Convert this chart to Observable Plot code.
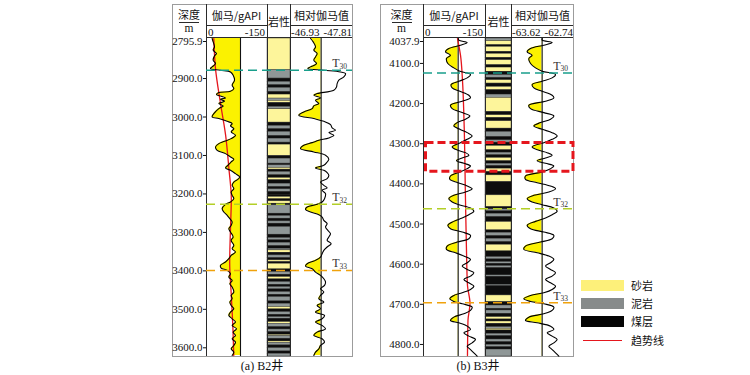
<!DOCTYPE html>
<html><head><meta charset="utf-8">
<script src="https://cdn.jsdelivr.net/npm/d3@7"></script>
<script src="https://cdn.jsdelivr.net/npm/@observablehq/plot@0.6"></script>
<style>
body{margin:0;background:#fff;}
#fig{position:relative;width:750px;height:375px;overflow:hidden;background:#fff;font-family:"Liberation Serif","Times New Roman","DejaVu Serif",serif;color:#111;}
.abs{position:absolute;}
.abs svg{overflow:visible;display:block;}
.t{position:absolute;white-space:nowrap;line-height:1;}
</style></head><body><div id="fig"></div>
<script>
// ---------------- DATA ----------------
const depthTicksA = [2795.9, 2900, 3000, 3100, 3200, 3300, 3400, 3500, 3600];
const depthTicksB = [4037.9, 4100, 4200, 4300, 4400, 4500, 4600, 4700, 4800];
const gammaScale = [0, -150];
const relScaleA = [-46.93, -47.81];
const relScaleB = [-63.62, -62.74];
const lithoNames = ["砂岩", "泥岩", "煤层"];
const markerNames = ["T30", "T32", "T33"];
const markerDepthA = [2878.4, 3227, 3398.8];
const markerDepthB = [4123.6, 4461.8, 4696.2];
const boxB = [4298, 4370];

// B2 well: [depth m, gamma]
const gammaA = [[2795.9,-13.9],[2804.7,-16.4],[2817.7,-19.7],[2826.3,-16.4],[2835,-24.6],[2841.1,-19.7],[2852.4,-16.4],[2861,-22.1],[2869.7,-13.9],[2874,-9.8],[2878.4,-34.4],[2882.8,-59],[2891.4,-65.6],[2904.4,-68.9],[2917.4,-63.1],[2926.1,-67.2],[2933,-59],[2936.5,-30.3],[2941.7,-24.6],[2946,-36.1],[2950.4,-46.7],[2953.8,-34.4],[2959,-44.3],[2965.1,-30.3],[2971.2,-41],[2978.1,-30.3],[2991.1,-18],[2999.8,-13.9],[3004.1,-30.3],[3011.1,-50.8],[3017.2,-63.1],[3023.2,-59],[3030.2,-67.2],[3038.8,-60.7],[3047.5,-71.3],[3056.2,-60.7],[3063.1,-44.3],[3069.2,-30.3],[3077.9,-22.1],[3086.5,-26.2],[3095.2,-46.7],[3103.9,-59],[3110,-67.2],[3116.9,-60.7],[3125.6,-52.5],[3132.5,-46.7],[3138.6,-59],[3147.3,-71.3],[3156,-82],[3162,-77],[3169,-67.2],[3177.6,-63.1],[3186.3,-67.2],[3195,-60.7],[3203.6,-63.1],[3212.3,-67.2],[3220.9,-59],[3227,-46.7],[3238.3,-38.5],[3247,-42.6],[3255.6,-50.8],[3264.3,-57.4],[3273,-63.1],[3281.7,-60.7],[3290.3,-54.9],[3299,-59],[3312,-65.6],[3320.7,-60.7],[3333.7,-67.2],[3342.4,-63.1],[3351,-71.3],[3359.7,-60.7],[3368.4,-54.9],[3377,-46.7],[3385.8,-34.4],[3392.7,-36.1],[3398.8,-50.8],[3407.4,-59],[3416.1,-54.9],[3424.8,-63.1],[3433.5,-57.4],[3442.1,-63.1],[3455.1,-67.2],[3463.8,-60.7],[3472.5,-63.1],[3481.2,-57.4],[3489.8,-60.7],[3498.5,-67.2],[3507.2,-59],[3515.9,-54.9],[3524.5,-63.1],[3533.2,-71.3],[3541.9,-63.1],[3550.6,-73.8],[3559.2,-65.6],[3567.9,-71.3],[3576.6,-63.1],[3585.3,-71.3],[3593.9,-67.2],[3602.6,-60.7],[3611.3,-67.2],[3620,-63.1]];
const trendA = [[2796,-18],[2873,-22],[2962,-34],[3047,-47],[3133,-55],[3212,-61],[3290,-59],[3378,-57],[3464,-61],[3550,-65],[3620,-67]];
const gammaBaseA = -83.6;
const relA = [[2795.9,-47.214],[2804.7,-47.252],[2817.7,-47.285],[2826.3,-47.261],[2835,-47.308],[2843.7,-47.285],[2852.4,-47.261],[2861,-47.299],[2869.7,-47.214],[2874,-47.176],[2878.4,-47.403],[2882.8,-47.64],[2887.1,-47.711],[2895.8,-47.687],[2904.4,-47.616],[2913.1,-47.592],[2921.8,-47.583],[2930.5,-47.545],[2939.1,-47.308],[2943.5,-47.261],[2950.4,-47.356],[2956.5,-47.285],[2965.1,-47.332],[2971.2,-47.261],[2978.1,-47.238],[2986.8,-47.119],[2995.5,-47.048],[3004.1,-47.261],[3011.1,-47.403],[3019.8,-47.498],[3028.4,-47.521],[3034.5,-47.569],[3040.6,-47.474],[3047.5,-47.545],[3054.4,-47.474],[3060.5,-47.332],[3066.6,-47.238],[3073.5,-47.119],[3082.2,-47.072],[3090.8,-47.261],[3099.5,-47.427],[3109.9,-47.474],[3116.9,-47.45],[3125.6,-47.403],[3132.5,-47.285],[3138.6,-47.403],[3144.6,-47.45],[3151.6,-47.474],[3160.2,-47.45],[3168.9,-47.356],[3177.6,-47.403],[3184.5,-47.45],[3190.6,-47.379],[3199.3,-47.427],[3212.3,-47.413],[3220.9,-47.379],[3227,-47.308],[3234,-47.167],[3240,-47.143],[3247,-47.214],[3253.9,-47.332],[3260,-47.379],[3268.7,-47.403],[3277.3,-47.45],[3286,-47.427],[3294.7,-47.46],[3303.4,-47.498],[3312,-47.474],[3320.7,-47.45],[3329.4,-47.507],[3338,-47.45],[3346.7,-47.403],[3355.4,-47.379],[3364.1,-47.356],[3372.7,-47.285],[3381.4,-47.167],[3387.5,-47.143],[3394.4,-47.238],[3403.1,-47.285],[3411.8,-47.356],[3420.5,-47.403],[3429.1,-47.427],[3437.8,-47.413],[3446.5,-47.356],[3455.1,-47.403],[3463.8,-47.356],[3472.5,-47.332],[3481.2,-47.403],[3489.8,-47.308],[3498.5,-47.356],[3507.2,-47.285],[3515.9,-47.413],[3524.5,-47.379],[3533.2,-47.285],[3541.9,-47.379],[3550.6,-47.427],[3559.2,-47.308],[3567.9,-47.261],[3576.6,-47.379],[3585.3,-47.413],[3593.9,-47.356],[3602.6,-47.332],[3611.3,-47.285],[3620,-47.261]];
const relBaseA = -47.365;
// lithology: [top depth, S=砂岩 M=泥岩 C=煤层]
const lithoA = [[2795.9,"S"],[2878.4,"M"],[2900.1,"C"],[2908.8,"M"],[2917.4,"C"],[2924.4,"M"],[2934.8,"C"],[2941.7,"S"],[2952.1,"M"],[2958.2,"S"],[2963.4,"C"],[2973.8,"M"],[2979.9,"S"],[3014.6,"C"],[3023.2,"M"],[3031.9,"C"],[3038.8,"M"],[3049.3,"C"],[3056.2,"M"],[3066.6,"C"],[3071.8,"S"],[3101.3,"C"],[3108.2,"M"],[3121.2,"C"],[3125.6,"M"],[3132.5,"S"],[3136.8,"C"],[3142.9,"M"],[3151.6,"C"],[3158.5,"S"],[3164.6,"C"],[3173.3,"M"],[3181.9,"C"],[3188,"M"],[3194.9,"C"],[3201.9,"C"],[3207.9,"S"],[3214,"C"],[3219.2,"S"],[3225.3,"C"],[3229.6,"M"],[3251.3,"C"],[3257.4,"M"],[3264.3,"C"],[3271.3,"M"],[3277.3,"C"],[3286,"M"],[3305.9,"C"],[3314.6,"M"],[3320.7,"C"],[3326.8,"M"],[3335.4,"C"],[3342.4,"M"],[3346.7,"S"],[3352.8,"C"],[3359.7,"M"],[3366.7,"C"],[3372.7,"S"],[3377.1,"C"],[3381.4,"S"],[3396.2,"C"],[3403.1,"M"],[3410,"C"],[3416.1,"S"],[3422.2,"C"],[3429.1,"M"],[3436.1,"C"],[3442.1,"M"],[3448.2,"C"],[3455.1,"M"],[3462.1,"C"],[3468.2,"M"],[3479.4,"C"],[3485.5,"M"],[3494.2,"S"],[3500.2,"C"],[3507.2,"M"],[3514.1,"C"],[3520.2,"M"],[3524.5,"C"],[3533.2,"S"],[3537.6,"M"],[3546.2,"C"],[3552.3,"M"],[3559.2,"C"],[3566.2,"S"],[3569.6,"M"],[3576.6,"C"],[3583.5,"S"],[3587,"M"],[3593.9,"C"],[3600.9,"M"],[3609.5,"C"],[3615.6,"M"],[3622.6,"C"]];

// B3 well
const gammaB = [[4038,-84],[4042.1,-85.5],[4047.9,-105.7],[4054.6,-89.5],[4062.9,-61.3],[4071.2,-53.2],[4079.5,-65.3],[4087.8,-55.6],[4100.3,-58.9],[4111.1,-73.4],[4119.4,-87.9],[4127.7,-113.7],[4136,-105.7],[4144.4,-85.5],[4152.7,-66.9],[4161,-69.4],[4169.3,-87.9],[4179.3,-109.7],[4185.9,-113.7],[4194.2,-93.6],[4204.2,-65.3],[4212.5,-69.4],[4222.5,-93.6],[4230.8,-112.1],[4239.1,-101.6],[4247.4,-81.5],[4255.7,-73.4],[4264.1,-87.9],[4272.4,-105.7],[4280.7,-117.7],[4289,-105.7],[4297.3,-89.5],[4308.1,-69.4],[4316.4,-83.1],[4322.2,-101.6],[4328.9,-109.7],[4335.5,-93.6],[4342.2,-79.8],[4348.8,-97.6],[4355.5,-113.7],[4362.1,-105.7],[4370.4,-87.9],[4380.4,-65.3],[4388.7,-63.7],[4397,-83.1],[4405.3,-105.7],[4412,-117.7],[4420.3,-101.6],[4428.6,-73.4],[4436.9,-61.3],[4445.2,-69.4],[4451.9,-85.5],[4460.2,-113.7],[4468.5,-121.8],[4476.8,-109.7],[4485.1,-93.6],[4493.4,-73.4],[4503.4,-58.9],[4511.7,-65.3],[4520,-93.6],[4528.3,-113.7],[4536.6,-109.7],[4545,-81.5],[4554.9,-57.3],[4563.2,-55.6],[4571.5,-77.4],[4579.9,-97.6],[4588.2,-113.7],[4596.5,-105.7],[4604.8,-93.6],[4613.1,-105.7],[4621.4,-121.8],[4629.7,-113.7],[4638,-97.6],[4646.4,-109.7],[4654.7,-121.8],[4663,-113.7],[4671.3,-93.6],[4677.9,-73.4],[4686.2,-63.7],[4692.9,-73.4],[4698.7,-93.6],[4707,-117.7],[4715.3,-113.7],[4723.6,-97.6],[4732,-73.4],[4740.3,-65.3],[4746.1,-85.5],[4754.4,-105.7],[4762.7,-113.7],[4771,-97.6],[4779.3,-109.7],[4787.6,-125.8],[4796,-117.7],[4804.3,-105.7],[4812.6,-113.7],[4820.9,-121.8],[4829.2,-129.8]];
const trendB = [[4038,-82.2],[4079.5,-89.5],[4141.9,-94.3],[4241.6,-98],[4441,-101.6],[4565.7,-104],[4653,-106.4],[4697.8,-112.5],[4740.2,-107.6],[4827.5,-106.4]];
const gammaBaseB = -83.9;
const relB = [[4038,-63.185],[4042.1,-63.185],[4047.9,-63.043],[4054.6,-63.161],[4062.9,-63.35],[4071.2,-63.398],[4079.5,-63.327],[4087.8,-63.374],[4100.3,-63.35],[4111.1,-63.279],[4119.4,-63.185],[4127.7,-62.995],[4136,-63.043],[4144.4,-63.185],[4152.7,-63.327],[4161,-63.303],[4169.3,-63.185],[4179.3,-63.043],[4185.9,-63.019],[4194.2,-63.137],[4204.2,-63.374],[4212.5,-63.35],[4222.5,-63.161],[4230.8,-63.019],[4239.1,-63.066],[4247.4,-63.208],[4255.7,-63.303],[4264.1,-63.185],[4272.4,-63.043],[4280.7,-62.972],[4289,-63.043],[4297.3,-63.161],[4308.1,-63.327],[4316.4,-63.232],[4322.2,-63.114],[4328.9,-63.043],[4335.5,-63.137],[4342.2,-63.256],[4348.8,-63.137],[4355.5,-63.019],[4362.1,-63.066],[4370.4,-63.185],[4380.4,-63.421],[4388.7,-63.421],[4397,-63.256],[4405.3,-63.066],[4412,-62.995],[4420.3,-63.09],[4428.6,-63.303],[4436.9,-63.398],[4445.2,-63.327],[4451.9,-63.185],[4460.2,-63.019],[4468.5,-62.972],[4476.8,-63.043],[4485.1,-63.137],[4493.4,-63.279],[4503.4,-63.398],[4511.7,-63.35],[4520,-63.161],[4528.3,-63.019],[4536.6,-63.043],[4545,-63.208],[4554.9,-63.421],[4563.2,-63.445],[4571.5,-63.256],[4579.9,-63.09],[4588.2,-63.019],[4596.5,-63.066],[4604.8,-63.137],[4613.1,-63.066],[4621.4,-62.995],[4629.7,-63.043],[4638,-63.137],[4646.4,-63.066],[4654.7,-62.995],[4663,-63.043],[4671.3,-63.161],[4677.9,-63.35],[4686.2,-63.445],[4692.9,-63.35],[4698.7,-63.161],[4707,-63.019],[4715.3,-63.043],[4723.6,-63.161],[4732,-63.374],[4740.3,-63.421],[4746.1,-63.256],[4754.4,-63.066],[4762.7,-63.019],[4771,-63.114],[4779.3,-63.043],[4787.6,-62.972],[4796,-63.019],[4804.3,-63.09],[4812.6,-63.043],[4820.9,-62.995],[4829.2,-62.948]];
const relBaseB = -63.185;
const lithoB = [[4037.9,"M"],[4044.6,"S"],[4054.6,"C"],[4058.8,"S"],[4071.2,"C"],[4076.2,"S"],[4086.2,"C"],[4092,"S"],[4104.5,"C"],[4110.3,"S"],[4120.8,"C"],[4129.1,"M"],[4136,"C"],[4141.8,"S"],[4150.2,"C"],[4158.5,"S"],[4166.8,"C"],[4177.6,"M"],[4185.9,"S"],[4220.8,"C"],[4229.1,"S"],[4235.8,"C"],[4244.1,"S"],[4262.4,"C"],[4270.7,"M"],[4283.2,"C"],[4291.5,"M"],[4297.3,"C"],[4305.6,"S"],[4316.4,"C"],[4322.2,"M"],[4328.9,"C"],[4335.5,"S"],[4343.8,"C"],[4349.7,"M"],[4355.5,"C"],[4362.1,"S"],[4370.4,"C"],[4378.8,"S"],[4395.4,"C"],[4428.6,"S"],[4457.7,"C"],[4463.5,"M"],[4468.5,"C"],[4474.3,"M"],[4482.6,"C"],[4495.1,"S"],[4515.9,"C"],[4521.7,"M"],[4530,"C"],[4536.6,"M"],[4545,"C"],[4551.6,"S"],[4568.2,"C"],[4582.4,"M"],[4588.2,"C"],[4594.8,"M"],[4599,"C"],[4604.8,"M"],[4609.8,"C"],[4628,"M"],[4631.4,"C"],[4651.3,"M"],[4654.7,"C"],[4677.9,"S"],[4694.5,"C"],[4702.9,"M"],[4711.2,"C"],[4715.3,"M"],[4723.6,"C"],[4732,"S"],[4737.8,"C"],[4742.8,"S"],[4748.6,"C"],[4756.9,"M"],[4761,"S"],[4765.2,"C"],[4773.5,"M"],[4779.3,"C"],[4787.6,"M"],[4794.3,"C"],[4800.9,"M"],[4806.8,"C"],[4812.6,"M"]];

// ---------------- STYLE / LAYOUT ----------------
const FILL_Y = "#fbf200";
const LITHO_COLORS = ["#fdf59b", "#8f9797", "#0d0d0d"];
const LEG_COLORS = ["#fdf07a", "#878b8b", "#050505"];
const RED = "#e5161d";
const MARK_COLORS = ["#199f8c", "#b3cf27", "#f0a20c"];
const SERIF = '"Liberation Serif","Times New Roman","DejaVu Serif",serif';
const CJK = '"Noto Sans CJK SC","Liberation Serif",sans-serif';
const codeName = {S: "砂岩", M: "泥岩", C: "煤层"};

const wells = [
  {frameL:172, depthR:206, gammaR:267, lithoR:290, relR:352, top:4, dataTop:38, bottom:356,
   domain:[2795.9, 3622.6], ticks:depthTicksA, gamma:gammaA, trend:trendA, gBase:gammaBaseA,
   rel:relA, relScale:relScaleA, rBase:relBaseA, litho:lithoA, marks:markerDepthA, box:null,
   caption:"(a) B2井", capX:262, leftLab:"-46.93", rightLab:"-47.81"},
  {frameL:380, depthR:423, gammaR:485, lithoR:511, relR:573, top:4, dataTop:38, bottom:356,
   domain:[4037.9, 4830], ticks:depthTicksB, gamma:gammaB, trend:trendB, gBase:gammaBaseB,
   rel:relB, relScale:relScaleB, rBase:relBaseB, litho:lithoB, marks:markerDepthB, box:boxB,
   caption:"(b) B3井", capX:478, leftLab:"-63.62", rightLab:"-62.74"}
];

const fig = document.getElementById("fig");
function place(node, left, top) {
  const w = document.createElement("div");
  w.className = "abs"; w.style.left = left + "px"; w.style.top = top + "px";
  w.appendChild(node); fig.appendChild(w); return w;
}
function box(left, top, width, height, style) {
  const d = document.createElement("div");
  d.className = "abs";
  Object.assign(d.style, {left: left + "px", top: top + "px", width: width + "px", height: height + "px", boxSizing: "border-box"}, style);
  fig.appendChild(d); return d;
}
function text(str, x, y, anchor, size, family) {
  const d = document.createElement("div");
  d.className = "t"; d.textContent = str;
  d.style.fontSize = (size || 11) + "px";
  d.style.fontFamily = family || SERIF;
  d.style.top = y + "px";
  const tx = anchor === "start" ? "0" : anchor === "end" ? "-100%" : "-50%";
  d.style.left = x + "px";
  d.style.transform = `translate(${tx},-50%)`;
  fig.appendChild(d); return d;
}
const plotStyle = {background: "transparent", overflow: "visible", fontFamily: SERIF, fontSize: "11px", color: "#111"};

for (const w of wells) {
  const H = w.bottom - w.dataTop;
  const ys = () => ({domain: w.domain, range: [0, H], axis: null});
  const [d0, d1] = w.domain;

  // frame
  box(w.frameL, w.top, w.relR - w.frameL + 1, w.bottom - w.top + 1, {border: "1.5px solid #9c9c9c"});

  // gamma track + depth axis
  const gPlot = Plot.plot({
    width: w.gammaR - w.frameL, height: H,
    marginLeft: w.depthR - w.frameL, marginRight: 0, marginTop: 0, marginBottom: 0,
    x: {domain: gammaScale, axis: null},
    y: ys(),
    style: plotStyle,
    marks: [
      Plot.areaX(w.gamma, {y: d => d[0], x1: w.gBase, x2: d => d[1], fill: FILL_Y, curve: "catmull-rom"}),
      Plot.rect([0], {x1: w.gBase, x2: gammaScale[1], y1: d0, y2: d1, fill: "white"}),
      Plot.ruleX([w.gBase], {stroke: "#111", strokeWidth: 1.1}),
      Plot.lineX(w.trend, {x: d => d[1], y: d => d[0], stroke: RED, strokeWidth: 1.3, curve: "monotone-y"}),
      Plot.lineX(w.gamma, {x: d => d[1], y: d => d[0], stroke: "#000", strokeWidth: 1.1, curve: "catmull-rom"}),
      Plot.axisY({ticks: w.ticks.slice(1), tickFormat: d3.format(".1f"), tickSize: 3, tickPadding: 1, anchor: "left", label: null, fontSize: 11, fontFamily: SERIF}),
      Plot.axisY({ticks: w.ticks.slice(0, 1), tickFormat: d3.format(".1f"), tickSize: 3, tickPadding: 1, anchor: "left", label: null, fontSize: 11, fontFamily: SERIF, dy: 3})
    ]
  });
  place(gPlot, w.frameL, w.dataTop);

  // lithology
  const layers = w.litho.map((l, i) => ({top: l[0], bottom: i + 1 < w.litho.length ? w.litho[i + 1][0] : d1, type: codeName[l[1]]}));
  const lPlot = Plot.plot({
    width: w.lithoR - w.gammaR, height: H, margin: 0,
    x: {domain: [0, 1], axis: null}, y: ys(),
    color: {domain: lithoNames, range: LITHO_COLORS},
    style: plotStyle,
    marks: [
      Plot.rect(layers, {x1: 0, x2: 1, y1: "top", y2: "bottom", fill: "type", stroke: "#222", strokeWidth: 0.4})
    ]
  });
  place(lPlot, w.gammaR, w.dataTop);

  // relative gamma track
  const rPlot = Plot.plot({
    width: w.relR - w.lithoR, height: H, margin: 0,
    x: {domain: w.relScale, axis: null}, y: ys(),
    style: plotStyle,
    marks: [
      Plot.areaX(w.rel, {y: d => d[0], x1: w.rBase, x2: d => d[1], fill: FILL_Y, curve: "catmull-rom"}),
      Plot.rect([0], {x1: w.rBase, x2: w.relScale[1], y1: d0, y2: d1, fill: "white"}),
      Plot.ruleX([w.rBase], {stroke: "#111", strokeWidth: 1.1}),
      Plot.lineX(w.rel, {x: d => d[1], y: d => d[0], stroke: "#000", strokeWidth: 1.1, curve: "catmull-rom"})
    ]
  });
  place(rPlot, w.lithoR, w.dataTop);

  // column separators and header lines
  for (const x of [w.depthR, w.gammaR, w.lithoR]) box(x, w.top, 1, w.bottom - w.top, {background: "#2a2a2a"});
  box(w.depthR, 25, w.gammaR - w.depthR, 1, {background: "#2a2a2a"});
  box(w.lithoR, 25, w.relR - w.lithoR, 1, {background: "#2a2a2a"});
  box(w.depthR, 37, w.relR - w.depthR, 1, {background: "#2a2a2a"});
  const dc = (w.frameL + w.depthR) / 2;
  box(dc - 10, 22, 20, 1, {background: "#2a2a2a"});

  // header text
  text("深度", dc, 14, "middle", 11, CJK);
  text("m", dc, 29, "middle", 11.5, SERIF);
  text("伽马/gAPI", (w.depthR + w.gammaR) / 2, 15, "middle", 11, CJK);
  text(String(gammaScale[0]), w.depthR + 2, 31.5, "start", 11, SERIF);
  text(String(gammaScale[1]), w.gammaR - 2, 31.5, "end", 11, SERIF);
  text("岩性", (w.gammaR + w.lithoR) / 2 + 0.5, 21, "middle", 11, CJK);
  text("相对伽马值", (w.lithoR + w.relR) / 2 + 0.5, 15, "middle", 11, CJK);
  text(w.leftLab, w.lithoR + 1, 31.5, "start", 11, SERIF);
  text(w.rightLab, w.relR, 31.5, "end", 11, SERIF);

  // markers overlay
  const mk = w.marks.map((d, i) => ({depth: d, color: MARK_COLORS[i], name: markerNames[i]}));
  const oMarks = [
    Plot.ruleY(mk, {y: "depth", stroke: "color", strokeWidth: 1.5, strokeDasharray: "9,5"}),
    Plot.text(mk, {y: "depth", x: 1, text: () => "T", dx: -13, dy: -7, textAnchor: "end", fontSize: 12, fontFamily: SERIF, fill: "#333"}),
    Plot.text(mk, {y: "depth", x: 1, text: d => d.name.slice(1), dx: -13, dy: -4, textAnchor: "start", fontSize: 7.5, fontFamily: SERIF, fill: "#333"})
  ];
  if (w.box) oMarks.push(Plot.rect([w.box], {x1: 0, x2: 1, y1: d => d[0], y2: d => d[1], fill: "none", stroke: RED, strokeWidth: 3, strokeDasharray: "8,4", insetLeft: 2.5}));
  const oPlot = Plot.plot({
    width: w.relR - w.depthR, height: H, margin: 0,
    x: {domain: [0, 1], axis: null}, y: ys(),
    color: {type: "identity"},
    style: plotStyle,
    marks: oMarks
  });
  place(oPlot, w.depthR, w.dataTop);

  // caption
  text(w.caption, w.capX, 366, "middle", 12, '"Liberation Serif","Times New Roman","Noto Sans CJK SC",serif');
}

// legend
const legY = [285, 303, 321];
lithoNames.forEach((n, i) => {
  box(581, legY[i] - 5.5, 43, 11, {background: LEG_COLORS[i]});
  text(n, 631, legY[i], "start", 11, CJK);
});
box(583, 339.5, 39, 1.5, {background: RED});
text("趋势线", 631, 340, "start", 11, CJK);
</script></body></html>
